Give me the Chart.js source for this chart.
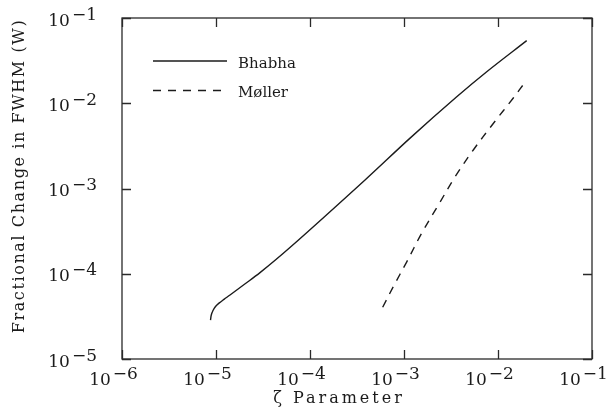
<!DOCTYPE html>
<html>
<head>
<meta charset="utf-8">
<script src="https://cdn.jsdelivr.net/npm/chart.js@4.4.1/dist/chart.umd.min.js"></script>
<style>
  body { margin: 0; background: #fff; }
  #wrap { width: 609px; height: 417px; }
</style>
</head>
<body>
<div id="wrap"><canvas id="chart" width="609" height="417"></canvas></div>
<script>
// zeta parameter vs fractional change in FWHM
const bhabhaZeta = [8.74e-6, 8.91e-6, 9.29e-6, 9.88e-6, 1.076e-5, 1.216e-5, 1.41e-5, 1.96e-5, 2.94e-5, 6.12e-5, 3.85e-4, 1.16e-3, 3.64e-3, 7.59e-3, 2.02e-2];
const bhabhaW    = [2.86e-5, 3.28e-5, 3.71e-5, 4.13e-5, 4.52e-5, 5.01e-5, 5.64e-5, 7.38e-5, 1.03e-4, 2.03e-4, 1.26e-3, 3.9e-3, 1.19e-2, 2.34e-2, 5.42e-2];
const mollerZeta = [5.93e-4, 7.69e-4, 1.07e-3, 1.54e-3, 2.32e-3, 3.49e-3, 5.46e-3, 8.91e-3, 1.455e-2, 1.937e-2];
const mollerW    = [4.04e-5, 7.05e-5, 1.38e-4, 2.98e-4, 6.40e-4, 1.37e-3, 2.83e-3, 5.79e-3, 1.152e-2, 1.76e-2];
const xTicks = [1e-6, 1e-5, 1e-4, 1e-3, 1e-2, 1e-1];
const yTicks = [1e-5, 1e-4, 1e-3, 1e-2, 1e-1];
const xTitle = "\u03B6 Parameter";
const yTitle = "Fractional Change in FWHM (W)";

const FONT = '"DejaVu Serif", "Liberation Serif", serif';
const INK = "#1b1b1b";

const toPoints = (xs, ys) => xs.map((x, i) => ({ x: x, y: ys[i] }));

// 10^n label with a raised exponent
function drawPower(ctx, v, x, y, align) {
  const n = Math.round(Math.log10(v));
  const base = "10";
  const sup = n < 0 ? "\u2212" + -n : String(n);
  ctx.font = "17px " + FONT;
  const wb = ctx.measureText(base).width;
  const ws = ctx.measureText(sup).width + 3;
  const total = wb + 2 + ws;
  let left = x;
  if (align === "center") left = x - total / 2;
  if (align === "right") left = x - total;
  ctx.textAlign = "left";
  ctx.textBaseline = "alphabetic";
  ctx.fillText(base, left, y);
  ctx.fillText(sup, left + wb + 2, y - 6);
}

const framePlugin = {
  id: "frame",
  afterDraw(chart) {
    const { ctx, chartArea: a, scales } = chart;
    ctx.save();
    ctx.strokeStyle = "#2a2a2a";
    ctx.fillStyle = INK;
    ctx.lineWidth = 1.3;
    ctx.strokeRect(a.left, a.top, a.right - a.left, a.bottom - a.top);

    // inward ticks on all four sides
    const len = 9;
    ctx.beginPath();
    xTicks.forEach((v) => {
      const px = Math.round(scales.x.getPixelForValue(v)) + 0.5;
      ctx.moveTo(px, a.bottom); ctx.lineTo(px, a.bottom - len);
      ctx.moveTo(px, a.top); ctx.lineTo(px, a.top + len);
    });
    yTicks.forEach((v) => {
      const py = Math.round(scales.y.getPixelForValue(v)) + 0.5;
      ctx.moveTo(a.left, py); ctx.lineTo(a.left + len, py);
      ctx.moveTo(a.right, py); ctx.lineTo(a.right - len, py);
    });
    ctx.stroke();

    // tick labels
    xTicks.forEach((v) => drawPower(ctx, v, scales.x.getPixelForValue(v) - 7, a.bottom + 26, "center"));
    yTicks.forEach((v) => drawPower(ctx, v, a.left - 22, scales.y.getPixelForValue(v) + 7.5, "right"));

    // axis titles
    ctx.font = "16px " + FONT;
    ctx.textAlign = "center";
    ctx.textBaseline = "alphabetic";
    ctx.letterSpacing = "3px";
    ctx.fillText(xTitle, 339, 403);
    ctx.translate(24, 176);
    ctx.rotate(-Math.PI / 2);
    ctx.letterSpacing = "1.6px";
    ctx.fillText(yTitle, 0, 0);
    ctx.setTransform(1, 0, 0, 1, 0, 0);
    ctx.letterSpacing = "0px";

    // legend inside the plot
    chart.data.datasets.forEach((ds, i) => {
      const y = 61 + i * 29.5;
      ctx.strokeStyle = ds.borderColor;
      ctx.lineWidth = ds.borderWidth;
      ctx.setLineDash(ds.borderDash || []);
      ctx.beginPath();
      ctx.moveTo(153, y);
      ctx.lineTo(227, y);
      ctx.stroke();
      ctx.setLineDash([]);
      ctx.font = "15px " + FONT;
      ctx.textAlign = "left";
      ctx.fillText(ds.label, 238, y + 6.5);
    });
    ctx.restore();
  },
};

new Chart(document.getElementById("chart"), {
  type: "line",
  data: {
    datasets: [
      {
        label: "Bhabha",
        data: toPoints(bhabhaZeta, bhabhaW),
        borderColor: INK,
        borderWidth: 1.4,
        pointRadius: 0,
        tension: 0.35,
        fill: false,
      },
      {
        label: "M\u00F8ller",
        data: toPoints(mollerZeta, mollerW),
        borderColor: INK,
        borderWidth: 1.4,
        borderDash: [8, 7],
        pointRadius: 0,
        tension: 0.35,
        fill: false,
      },
    ],
  },
  options: {
    responsive: false,
    animation: false,
    layout: { padding: { left: 122, top: 18, right: 17, bottom: 58 } },
    plugins: { legend: { display: false }, tooltip: { enabled: false } },
    scales: {
      x: { type: "logarithmic", min: 1e-6, max: 1e-1, display: false },
      y: { type: "logarithmic", min: 1e-5, max: 1e-1, display: false },
    },
  },
  plugins: [framePlugin],
});
</script>
</body>
</html>
